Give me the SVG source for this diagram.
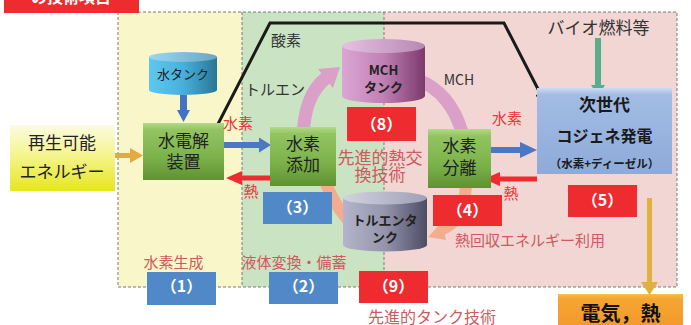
<svg xmlns="http://www.w3.org/2000/svg" width="691" height="325" viewBox="0 0 691 325">
<defs>
  <linearGradient id="gGreen" x1="0" y1="0" x2="0" y2="1">
    <stop offset="0" stop-color="#b4da86"/>
    <stop offset="0.12" stop-color="#92c462"/>
    <stop offset="0.6" stop-color="#7cb24a"/>
    <stop offset="1" stop-color="#5f9232"/>
  </linearGradient>
  <linearGradient id="gYellow" x1="0" y1="0" x2="0" y2="1">
    <stop offset="0" stop-color="#fbfbe2"/>
    <stop offset="0.45" stop-color="#f5f590"/>
    <stop offset="1" stop-color="#e6e620"/>
  </linearGradient>
  <linearGradient id="gBlueBox" x1="0" y1="0" x2="0" y2="1">
    <stop offset="0" stop-color="#cddcf2"/>
    <stop offset="0.08" stop-color="#a2bce4"/>
    <stop offset="1" stop-color="#8eaad8"/>
  </linearGradient>
  <linearGradient id="gOrange" x1="0" y1="0" x2="0" y2="1">
    <stop offset="0" stop-color="#f8c040"/>
    <stop offset="0.15" stop-color="#f5a532"/>
    <stop offset="1" stop-color="#f39a2c"/>
  </linearGradient>
  <linearGradient id="gWater" x1="0" y1="0" x2="1" y2="0">
    <stop offset="0" stop-color="#5cc8f0"/>
    <stop offset="0.5" stop-color="#48b0dc"/>
    <stop offset="1" stop-color="#2a7696"/>
  </linearGradient>
  <linearGradient id="gWaterTop" x1="0" y1="0" x2="1" y2="0">
    <stop offset="0" stop-color="#9ad8f2"/>
    <stop offset="1" stop-color="#6aa6c4"/>
  </linearGradient>
  <linearGradient id="gMCH" x1="0" y1="0" x2="1" y2="0">
    <stop offset="0" stop-color="#dba6d4"/>
    <stop offset="0.5" stop-color="#c080b4"/>
    <stop offset="1" stop-color="#7c3a6c"/>
  </linearGradient>
  <linearGradient id="gMCHTop" x1="0" y1="0" x2="1" y2="0">
    <stop offset="0" stop-color="#e6c0e2"/>
    <stop offset="1" stop-color="#b888b4"/>
  </linearGradient>
  <linearGradient id="gTol" x1="0" y1="0" x2="1" y2="0">
    <stop offset="0" stop-color="#b4b4ca"/>
    <stop offset="0.5" stop-color="#9494ac"/>
    <stop offset="1" stop-color="#4c4c64"/>
  </linearGradient>
  <linearGradient id="gTolTop" x1="0" y1="0" x2="1" y2="0">
    <stop offset="0" stop-color="#d2d2e0"/>
    <stop offset="1" stop-color="#a0a0b6"/>
  </linearGradient>
</defs>
<style>
  text { font-family: "Noto Sans CJK JP", "Noto Sans", sans-serif; }
  .lbl { font-size: 17px; fill: #222; text-anchor: middle; }
  .tank { font-size: 13px; fill: #222; text-anchor: middle; font-weight: bold; }
  .num { font-size: 16px; font-weight: bold; fill: #fff; text-anchor: middle; }
  .pk { fill: #cc5a5e; font-size: 15px; }
  .rd { fill: #e8383a; font-size: 15px; text-anchor: middle; }
  .dk { fill: #333; font-size: 15px; }
  .blue { fill: #5088c8; }
  .red { fill: #ee2b2f; }
  .region { stroke: none; }
  .dash { fill: none; stroke: #7a7a7a; stroke-width: 1; stroke-dasharray: 3 2; }
  .pinkarc { fill: none; stroke: #daa0c8; stroke-width: 13; }
  .salarc { fill: none; stroke: #f5ac8e; stroke-width: 12; }
</style>

<!-- background regions -->
<g id="regions">
  <rect class="region" x="118" y="12" width="124" height="275" fill="#f9f6c9"/>
  <rect class="region" x="242" y="12" width="142" height="275" fill="#c9e3c3"/>
  <rect class="region" x="384" y="12" width="293" height="275" fill="#f1d6d3"/>
  <rect class="dash" x="118" y="12" width="559" height="275"/>
  <line class="dash" x1="242" y1="12" x2="242" y2="287"/>
  <line class="dash" x1="384" y1="12" x2="384" y2="287"/>
</g>

<!-- header box -->
<g id="header">
  <rect x="4" y="0" width="135" height="13" fill="#ee2b2f"/>
  <text x="71" y="3" font-size="16" font-weight="bold" fill="#fff" text-anchor="middle">の技術項目</text>
</g>

<!-- cycle arcs -->
<g id="cycle">
  <path class="pinkarc" d="M303,138 Q304,95 326,78"/>
  <polygon points="340,67 333,88 318,69" fill="#daa0c8"/>
  <path class="pinkarc" d="M418,80 Q450,92 462,132"/>
  <path class="salarc" d="M466,186 Q464,222 440,230"/>
  <polygon points="428,237 442,222 446,240" fill="#f5ac8e"/>
  <path class="salarc" d="M352,224 Q337,210 326,184"/>
</g>

<!-- connectors -->
<g id="connectors">
  <!-- renewable -> electrolysis (orange) -->
  <rect x="115" y="153" width="16" height="5" fill="#e2aa40"/>
  <polygon points="130,148 143,155.5 130,163" fill="#e2aa40"/>
  <!-- water tank -> electrolysis (blue) -->
  <rect x="180" y="95" width="7" height="16" fill="#4472c4"/>
  <polygon points="177,110 190,110 183.5,122" fill="#4472c4"/>
  <!-- electrolysis -> hydrogenation (blue) -->
  <rect x="224" y="142" width="37" height="6" fill="#4a78c4"/>
  <polygon points="259,137.5 271,145 259,152.5" fill="#4a78c4"/>
  <!-- hydrogenation -> electrolysis heat (red) -->
  <rect x="240" y="175.5" width="30" height="5" fill="#ee2b2f"/>
  <polygon points="242,171 226,178 242,185" fill="#ee2b2f"/>
  <!-- separation -> cogeneration (blue) -->
  <rect x="491" y="147" width="31" height="6" fill="#4a78c4"/>
  <polygon points="520,142 537,150 520,158" fill="#4a78c4"/>
  <!-- cogeneration -> separation heat (red) -->
  <rect x="498" y="176.5" width="39" height="5" fill="#ee2b2f"/>
  <polygon points="500,172 484,179 500,186" fill="#ee2b2f"/>
  <!-- biofuel -> cogeneration (green) -->
  <rect x="595" y="38" width="6" height="48" fill="#58ae8a"/>
  <polygon points="591,85 605,85 598,96" fill="#58ae8a"/>
  <!-- cogeneration -> electricity/heat (orange) -->
  <rect x="647" y="198" width="5" height="85" fill="#e2b040"/>
  <polygon points="641,282 658,282 649.5,295" fill="#e2b040"/>
  <!-- oxygen line (black) -->
  <polyline points="218,124 270,23 504,23 540,93" fill="none" stroke="#1a1a1a" stroke-width="3"/>
  <polygon points="546,104 545,91 536,95.6" fill="#1a1a1a" stroke="#1a1a1a" stroke-width="1"/>
</g>

<!-- nodes -->
<g id="renewable">
  <rect x="10" y="125" width="105" height="66" fill="url(#gYellow)"/>
  <text class="lbl" x="62" y="149">再生可能</text>
  <text class="lbl" x="62" y="178">エネルギー</text>
</g>

<g id="watertank">
  <path d="M149,57 L149,90 A34,5 0 0 0 217,90 L217,57 Z" fill="url(#gWater)"/>
  <ellipse cx="183" cy="57" rx="34" ry="5" fill="url(#gWaterTop)"/>
  <text x="183" y="79" font-size="13" fill="#222" text-anchor="middle">水タンク</text>
</g>

<g id="electrolysis">
  <rect x="143" y="123" width="81" height="57" fill="url(#gGreen)"/>
  <text class="lbl" x="183.5" y="147">水電解</text>
  <text class="lbl" x="183.5" y="168">装置</text>
</g>

<g id="hydrogenation">
  <rect x="270" y="127" width="66" height="59" fill="url(#gGreen)"/>
  <text class="lbl" x="303" y="150">水素</text>
  <text class="lbl" x="303" y="171">添加</text>
</g>

<g id="mchtank">
  <path d="M342,46 L342,96 A41.5,7 0 0 0 425,96 L425,46 Z" fill="url(#gMCH)"/>
  <ellipse cx="383.5" cy="46" rx="41.5" ry="7" fill="url(#gMCHTop)"/>
  <text class="tank" x="383.5" y="75">MCH</text>
  <text class="tank" x="383.5" y="92" font-size="14">タンク</text>
</g>

<g id="toluenetank">
  <path d="M343,198 L343,245 A42,6.5 0 0 0 427,245 L427,198 Z" fill="url(#gTol)"/>
  <ellipse cx="385" cy="198" rx="42" ry="6.5" fill="url(#gTolTop)"/>
  <text class="tank" x="385" y="225">トルエンタ</text>
  <text class="tank" x="385" y="242">ンク</text>
</g>

<g id="separation">
  <rect x="428" y="129" width="63" height="59" fill="url(#gGreen)"/>
  <text class="lbl" x="459.5" y="152">水素</text>
  <text class="lbl" x="459.5" y="174">分離</text>
</g>

<g id="cogeneration">
  <rect x="537" y="88" width="135" height="86" fill="url(#gBlueBox)"/>
  <text x="604.5" y="111" font-size="17" font-weight="bold" fill="#1a1a1a" text-anchor="middle">次世代</text>
  <text x="604.5" y="142" font-size="16" font-weight="bold" fill="#1a1a1a" text-anchor="middle">コジェネ発電</text>
  <text x="604.5" y="168" font-size="11.5" font-weight="bold" fill="#1a1a1a" text-anchor="middle">（水素+ディーゼル）</text>
</g>

<g id="output">
  <rect x="558" y="294" width="125" height="31" fill="url(#gOrange)"/>
  <text x="620.5" y="321" font-size="20" font-weight="bold" fill="#111" text-anchor="middle">電気，熱</text>
</g>

<!-- number tags -->
<g id="tag1"><rect class="blue" x="147" y="272" width="69" height="33"/><text class="num" x="181.5" y="292">（1）</text></g>
<g id="tag2"><rect class="blue" x="269" y="272" width="69" height="32"/><text class="num" x="303.5" y="292">（2）</text></g>
<g id="tag3"><rect class="blue" x="263" y="192" width="69" height="32"/><text class="num" x="297.5" y="213">（3）</text></g>
<g id="tag4"><rect class="red" x="433" y="195" width="69" height="31"/><text class="num" x="467.5" y="216">（4）</text></g>
<g id="tag5"><rect class="red" x="568" y="185" width="69" height="32"/><text class="num" x="602.5" y="206">（5）</text></g>
<g id="tag8"><rect class="red" x="347" y="107" width="69" height="34"/><text class="num" x="381.5" y="130">（8）</text></g>
<g id="tag9"><rect class="red" x="359" y="271" width="69" height="32"/><text class="num" x="393.5" y="292">（9）</text></g>

<!-- labels -->
<g id="labels">
  <text class="dk" x="286" y="46" font-size="16" text-anchor="middle">酸素</text>
  <text class="dk" x="275" y="95" text-anchor="middle">トルエン</text>
  <text x="459" y="85" font-size="14" fill="#333" text-anchor="middle" font-family="Liberation Sans, sans-serif">MCH</text>
  <text x="598.5" y="34" font-size="17" fill="#333" text-anchor="middle">バイオ燃料等</text>
  <text class="rd" x="238" y="129">水素</text>
  <text class="rd" x="251" y="197">熱</text>
  <text class="rd" x="507" y="124">水素</text>
  <text class="rd" x="511" y="199">熱</text>
  <text x="380" y="164" font-size="17" fill="#cc5a5e" text-anchor="middle">先進的熱交</text>
  <text x="380" y="181" font-size="17" fill="#cc5a5e" text-anchor="middle">換技術</text>
  <text class="pk" x="173.5" y="268" text-anchor="middle">水素生成</text>
  <text class="pk" x="294" y="268" text-anchor="middle">液体変換・備蓄</text>
  <text class="pk" x="455" y="246">熱回収エネルギー利用</text>
  <text x="368" y="323" font-size="16" fill="#cc5a5e">先進的タンク技術</text>
</g>
</svg>
